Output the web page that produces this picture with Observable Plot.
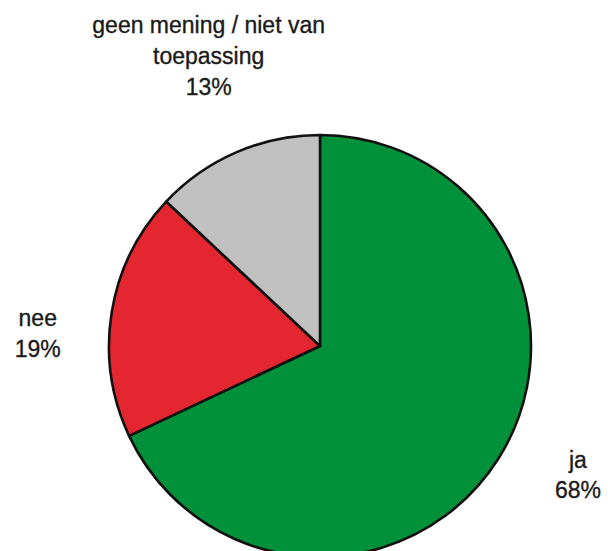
<!DOCTYPE html>
<html>
<head>
<meta charset="utf-8">
<script src="https://cdn.jsdelivr.net/npm/d3@7"></script>
<script src="https://cdn.jsdelivr.net/npm/@observablehq/plot@0.6"></script>
<style>
  html, body { margin: 0; padding: 0; background: #fff; }
  #chart svg { display: block; }
</style>
</head>
<body>
<div id="chart"></div>
<script>
// Data
const categories = ["ja", "nee", "geen mening / niet van\ntoepassing"];
const values = [68, 19, 13];
const colors = ["#00913a", "#e3262f", "#c0c0c0"];

// Layout (label anchors in pie-radius units, centre = 0,0)
const labelAnchors = [
  [1.22, -0.6],
  [-1.34, 0.07],
  [-0.53, 1.385]
];

const rows = categories.map((c, i) => ({
  cat: c, value: values[i], color: colors[i],
  lx: labelAnchors[i][0], ly: labelAnchors[i][1],
  label: c + "\n" + values[i] + "%"
}));

const R = 211, CX = 320, CY = 346, W = 608, H = 551;

const pieMark = (index, scales) => {
  const cx = scales.x(0), cy = scales.y(0);
  const r = scales.x(1) - scales.x(0);
  const arcs = d3.pie().sort(null).value(d => d.value)(rows);
  const arc = d3.arc().innerRadius(0).outerRadius(r);
  const g = d3.create("svg:g").attr("transform", `translate(${cx},${cy})`);
  g.selectAll("path").data(arcs).join("path")
    .attr("d", arc)
    .attr("fill", d => d.data.color)
    .attr("stroke", "#111")
    .attr("stroke-width", 2.6)
    .attr("stroke-linejoin", "round");
  return g.node();
};

const chart = Plot.plot({
  width: W, height: H,
  margin: 0,
  x: {domain: [-CX / R, (W - CX) / R], axis: null},
  y: {domain: [-(H - CY) / R, CY / R], axis: null},
  marks: [
    pieMark,
    Plot.text(rows, {
      x: "lx", y: "ly", text: "label",
      fontSize: 23, lineHeight: 1.34,
      fontFamily: "Liberation Sans, Arial, Helvetica, sans-serif",
      fill: "#1a1a1a", stroke: "#1a1a1a", strokeWidth: 0.35,
      textAnchor: "middle"
    })
  ]
});
document.getElementById("chart").append(chart);
</script>
</body>
</html>
